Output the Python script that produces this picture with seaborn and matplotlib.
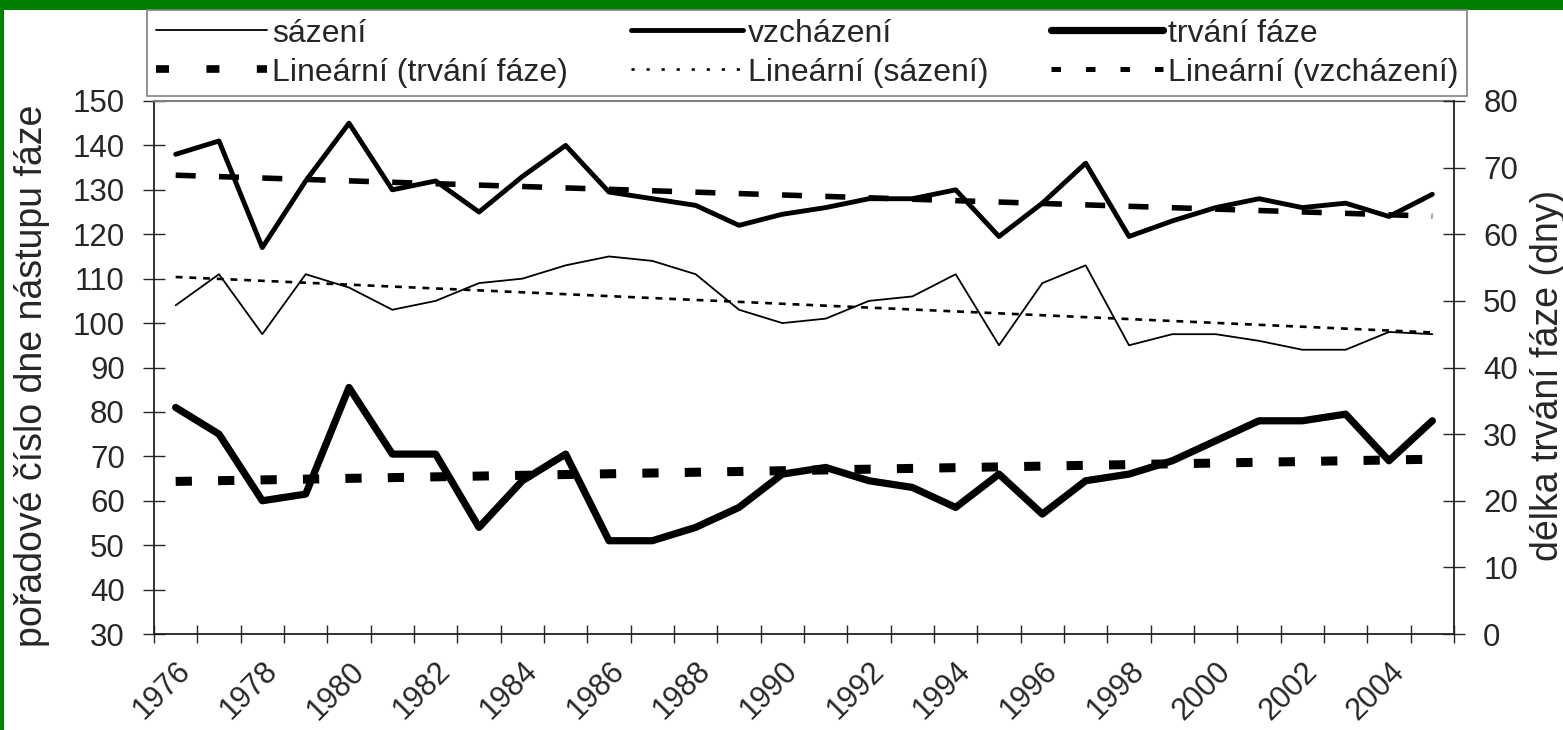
import numpy as np
import matplotlib.pyplot as plt
import seaborn as sns
from matplotlib.patches import Rectangle
from matplotlib.lines import Line2D
from matplotlib.transforms import ScaledTranslation

years = list(range(1976, 2006))
sazeni = [104, 111, 97.5, 111, 108, 103, 105, 109, 110, 113,
          115, 114, 111, 103, 100, 101, 105, 106, 111, 95,
          109, 113, 95, 97.5, 97.5, 96, 94, 94, 98, 97.5]
vzchazeni = [138, 141, 117, 132, 145, 130, 132, 125, 133, 140,
             129.5, 128, 126.5, 122, 124.5, 126, 128, 128, 130, 119.5,
             127, 136, 119.5, 123, 126, 128, 126, 127, 124, 129]
trvani = [34, 30, 20, 21, 37, 27, 27, 16, 23, 27,
          14, 14, 16, 19, 24, 25, 23, 22, 19, 24,
          18, 23, 24, 26, 29, 32, 32, 33, 26, 32]

sns.set_style('white')
plt.rcParams['font.family'] = ['Liberation Sans', 'DejaVu Sans']

W, H = 1563, 730
fig = plt.figure(figsize=(W / 100, H / 100), dpi=100, facecolor='#008000')
fig.patches.append(Rectangle((4 / W, 0), 1, 720 / H, transform=fig.transFigure,
                             facecolor='white', edgecolor='none', zorder=-1))
ax = fig.add_axes([154 / W, 1 - 634 / H, 1300 / W, 533 / H])
ax2 = ax.twinx()

idx = np.arange(len(years))

# data lines
sns.lineplot(x=idx, y=sazeni, ax=ax, color='black', lw=1.3, label='sázení', legend=False)
sns.lineplot(x=idx, y=vzchazeni, ax=ax, color='black', lw=3.5, label='vzcházení', legend=False)
sns.lineplot(x=idx, y=trvani, ax=ax2, color='black', lw=5.2, label='trvání fáze', legend=False)

# linear trends
sns.regplot(x=idx, y=sazeni, ax=ax, scatter=False, ci=None, color='black',
            line_kws=dict(lw=1.9, dashes=(2.6, 2.6)))
sns.regplot(x=idx, y=vzchazeni, ax=ax, scatter=False, ci=None, color='black',
            line_kws=dict(lw=4, dashes=(3.6, 4.2)))
sns.regplot(x=idx, y=trvani, ax=ax2, scatter=False, ci=None, color='black',
            line_kws=dict(lw=6.5, dashes=(1.8, 2.9)))

ax.set_xlim(-0.5, len(years) - 0.5)
ax.set_ylim(30, 150)
ax.set_yticks(range(30, 151, 10))
ax2.set_ylim(0, 80)
ax2.set_yticks(range(0, 81, 10))

# boundary ticks + every second year label
ax.set_xticks(np.arange(-0.5, len(years), 1), minor=True)
ax.set_xticks(idx[::2])
ax.set_xticklabels([str(y) for y in years[::2]], rotation=45, ha='right', va='top',
                   rotation_mode='anchor', fontsize=22)
off = ScaledTranslation(-16 / 100, 0, fig.dpi_scale_trans)
for lab in ax.get_xticklabels():
    lab.set_transform(lab.get_transform() + off)
ax.tick_params(axis='x', which='major', length=0, pad=16)
ax.tick_params(axis='x', which='minor', length=13, width=1, direction='inout', bottom=True)
ax.tick_params(axis='y', length=16, width=1, direction='inout', labelsize=22.5, pad=13, left=True)
ax2.tick_params(axis='y', length=16, width=1, direction='inout', labelsize=22.5, pad=13, right=True)

for a in (ax, ax2):
    a.grid(False)
    for s in a.spines.values():
        s.set_visible(False)
ax.spines['left'].set_visible(True)
ax.spines['bottom'].set_visible(True)
ax.spines['top'].set_visible(True)
ax.spines['top'].set_color('#808080')
ax.spines['top'].set_linewidth(1.5)
ax2.spines['right'].set_visible(True)
for s in (ax.spines['left'], ax.spines['bottom'], ax2.spines['right']):
    s.set_color('#202020')
    s.set_linewidth(1.3)

ax.set_xlabel('')
ax.set_ylabel('pořadové číslo dne nástupu fáze', fontsize=27)
ax.yaxis.set_label_coords(-0.08, 0.485)
ax2.set_ylabel('délka trvání fáze (dny)', fontsize=27)
ax2.yaxis.set_label_coords(1.0585, 0.485)

h1, l1 = ax.get_legend_handles_labels()
h2, l2 = ax2.get_legend_handles_labels()
hmap = dict(zip(l1 + l2, h1 + h2))
hmap['Lineární (trvání fáze)'] = Line2D([], [], color='black', lw=5.5, dashes=(1.7, 4.9))
hmap['Lineární (sázení)'] = Line2D([], [], color='black', lw=1.9, dashes=(1.2, 4.5))
hmap['Lineární (vzcházení)'] = Line2D([], [], color='black', lw=3.6, dashes=(1.9, 5.0))
order = ['sázení', 'Lineární (trvání fáze)', 'vzcházení', 'Lineární (sázení)',
         'trvání fáze', 'Lineární (vzcházení)']
leg = fig.legend([hmap[k] for k in order], order, ncol=3, loc='upper left',
                 bbox_to_anchor=(147 / W, 1 - 96 / H, 1320 / W, 86 / H), mode='expand',
                 frameon=True, fancybox=False, edgecolor='#808080', framealpha=1,
                 fontsize=23, handlelength=3.5, handletextpad=0.15, borderpad=0.27,
                 labelspacing=0.28, borderaxespad=0)
leg.get_frame().set_linewidth(1.2)

fig.savefig('out.png', dpi=100, facecolor=fig.get_facecolor())
